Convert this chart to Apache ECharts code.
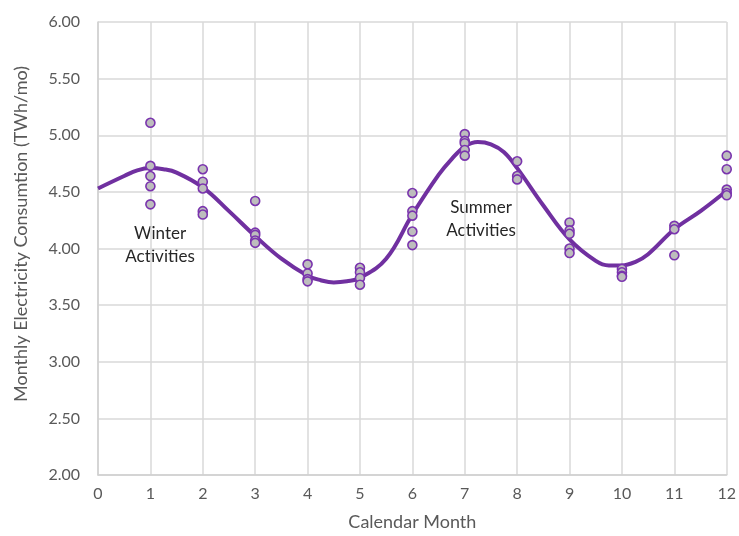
<!DOCTYPE html>
<html>
<head>
<meta charset="utf-8">
<script src="https://cdn.jsdelivr.net/npm/echarts@6/dist/echarts.min.js"></script>
<style>html,body{margin:0;padding:0;background:#fff}#c{width:739px;height:536px}</style>
</head>
<body>
<div id="c"></div>
<script>
// Observed monthly consumption (TWh/mo), grouped by calendar month
const months = [1, 2, 3, 4, 5, 6, 7, 8, 9, 10, 11, 12];
const observed = [
  [5.11, 4.73, 4.64, 4.55, 4.39],
  [4.70, 4.59, 4.53, 4.33, 4.30],
  [4.42, 4.14, 4.12, 4.07, 4.05],
  [3.86, 3.78, 3.73, 3.71],
  [3.83, 3.79, 3.74, 3.68],
  [4.49, 4.33, 4.29, 4.15, 4.03],
  [5.01, 4.95, 4.93, 4.87, 4.82],
  [4.77, 4.64, 4.61],
  [4.23, 4.16, 4.13, 4.00, 3.96],
  [3.82, 3.79, 3.76, 3.75],
  [4.20, 4.17, 3.94],
  [4.82, 4.70, 4.52, 4.49, 4.47]
];
// Fitted curve
const fitX = [0, 0.5, 0.75, 1, 1.25, 1.5, 2, 2.5, 3, 3.5, 4, 4.25, 4.5, 4.75, 5, 5.5, 6, 6.5, 6.75, 7, 7.25, 7.5, 7.75, 8, 8.5, 9, 9.5, 9.75, 10, 10.25, 10.5, 11, 11.5, 12];
const fitY = [4.53, 4.64, 4.69, 4.71, 4.70, 4.67, 4.54, 4.33, 4.11, 3.91, 3.76, 3.72, 3.70, 3.71, 3.74, 3.91, 4.30, 4.65, 4.79, 4.90, 4.94, 4.92, 4.85, 4.71, 4.38, 4.08, 3.89, 3.85, 3.85, 3.88, 3.95, 4.17, 4.33, 4.51];
const yTicks = ['2.00', '2.50', '3.00', '3.50', '4.00', '4.50', '5.00', '5.50', '6.00'];
const xTitle = 'Calendar Month';
const yTitle = 'Monthly Electricity Consumtion (TWh/mo)';
const notes = ['Winter\nActivities', 'Summer\nActivities'];

const scatterData = [];
months.forEach((m, i) => observed[i].forEach(v => scatterData.push([m, v])));
const fitData = fitX.map((x, i) => [x, fitY[i]]);

const FONT = 'Lato';
const chart = echarts.init(document.getElementById('c'));
chart.setOption({
  animation: false,
  backgroundColor: '#ffffff',
  grid: { left: 98, right: 11, top: 22, bottom: 59 },
  xAxis: {
    type: 'value', min: 0, max: 12, interval: 1,
    name: xTitle, nameLocation: 'middle', nameGap: 38,
    nameTextStyle: { color: '#595959', fontSize: 18, fontFamily: FONT },
    axisLine: { lineStyle: { color: '#D0D0D0', width: 1.5 } },
    axisTick: { show: false },
    axisLabel: { color: '#595959', fontSize: 16, fontFamily: FONT, margin: 11 },
    splitLine: { show: true, lineStyle: { color: '#D9D9D9', width: 1.5 } }
  },
  yAxis: {
    type: 'value', min: 2, max: 6, interval: 0.5,
    axisLine: { show: true, lineStyle: { color: '#D0D0D0', width: 1.5 } },
    axisTick: { show: false },
    axisLabel: { color: '#595959', fontSize: 16, fontFamily: FONT, margin: 18,
      formatter: v => yTicks[Math.round((v - 2) / 0.5)] },
    splitLine: { show: true, lineStyle: { color: '#D9D9D9', width: 1.5 } }
  },
  series: [
    {
      type: 'line', data: fitData, smooth: 0.4, showSymbol: false,
      lineStyle: { color: '#7030A0', width: 4 }, z: 2
    },
    {
      type: 'scatter', data: scatterData, symbol: 'circle', symbolSize: 9,
      itemStyle: { color: '#BDBDBD', borderColor: '#7A34AE', borderWidth: 1.6, opacity: 1 }, z: 3
    }
  ],
  graphic: [
    { type: 'text', x: 21, y: 234, rotation: Math.PI / 2,
      style: { text: yTitle, fill: '#595959', font: '18px Lato', align: 'center', verticalAlign: 'middle' } },
    { type: 'text', x: 160, y: 222, style: { text: notes[0], fill: '#262626', font: '17px Lato', align: 'center', verticalAlign: 'top', lineHeight: 23 } },
    { type: 'text', x: 481, y: 196, style: { text: notes[1], fill: '#262626', font: '17px Lato', align: 'center', verticalAlign: 'top', lineHeight: 23 } }
  ]
});
</script>
</body>
</html>
